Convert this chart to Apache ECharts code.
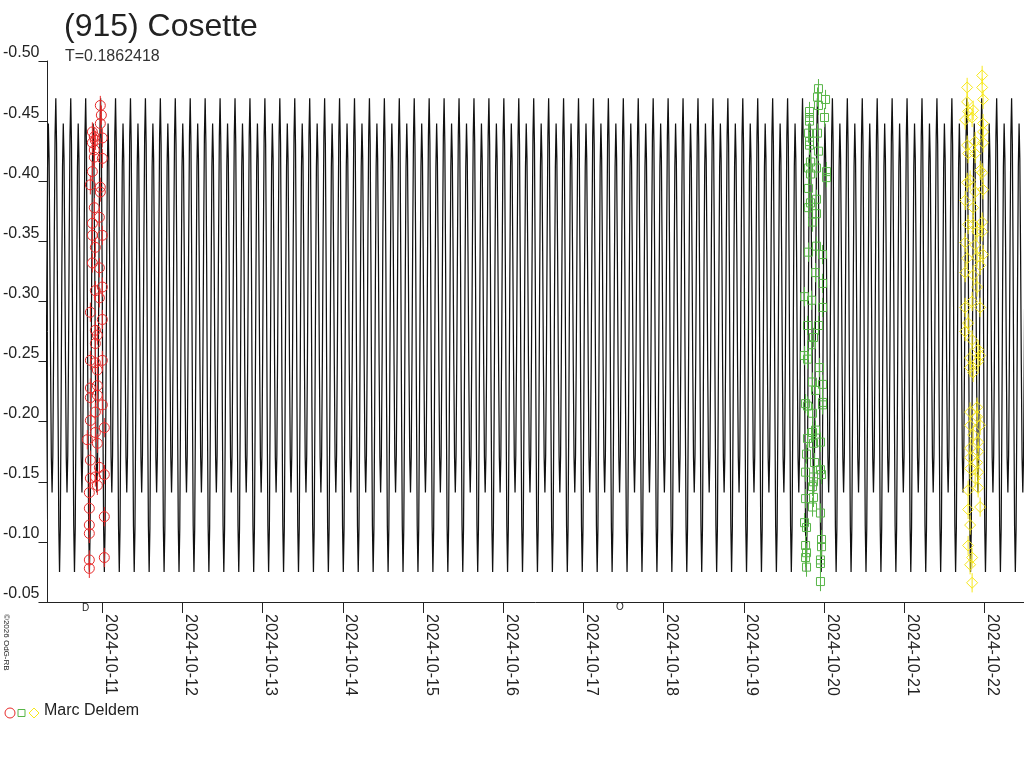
<!DOCTYPE html>
<html>
<head>
<meta charset="utf-8">
<script src="https://cdn.jsdelivr.net/npm/echarts@6/dist/echarts.min.js"></script>
<style>
html,body{margin:0;padding:0;background:#fff;}
#chart{width:1024px;height:768px;}
</style>
</head>
<body>
<div id="chart"></div>
<script>
// ---- data (days are day-of-month, October 2024) ----
const titleText = '(915) Cosette';
const periodText = 'T=0.1862418';
const period = 0.1862418;          // days
const epochMax = 14.8898;          // time of a tall maximum
// one period of the model light curve, phase 0..0.95 (step 0.05)
const phaseProfile = [-0.469, -0.431, -0.333, -0.211, -0.113, -0.075, -0.111, -0.204, -0.319, -0.412,
                      -0.448, -0.419, -0.342, -0.247, -0.170, -0.141, -0.172, -0.254, -0.356, -0.438];
const xMin = 10.316, xMax = 22.494;
const tickDays = [11, 12, 13, 14, 15, 16, 17, 18, 19, 20, 21, 22];
const yTicks = [-0.50, -0.45, -0.40, -0.35, -0.30, -0.25, -0.20, -0.15, -0.10, -0.05];
const errHalf = 0.008;

const redT = [10.975,10.988,10.975,10.876,10.900,10.876,10.913,11.000,10.900,11.000,10.900,10.876,10.851,10.975,10.975,10.900,10.963,10.876,10.876,11.000,10.913,10.876,10.963,11.000,10.913,10.963,10.851,11.000,10.913,10.938,10.913,10.851,11.000,10.913,10.938,10.851,10.938,10.851,10.938,11.000,10.913,10.851,11.025,10.913,10.813,10.938,10.851,10.963,11.025,10.851,10.913,10.938,10.838,10.838,11.025,10.838,10.838,11.025,10.838,10.838];
const redM = [-0.463,-0.455,-0.448,-0.441,-0.437,-0.432,-0.434,-0.436,-0.426,-0.419,-0.420,-0.408,-0.397,-0.395,-0.391,-0.378,-0.370,-0.365,-0.355,-0.355,-0.345,-0.332,-0.328,-0.312,-0.309,-0.303,-0.291,-0.285,-0.276,-0.272,-0.265,-0.251,-0.251,-0.249,-0.243,-0.228,-0.230,-0.220,-0.222,-0.214,-0.208,-0.201,-0.195,-0.191,-0.185,-0.182,-0.168,-0.162,-0.156,-0.153,-0.154,-0.147,-0.141,-0.128,-0.121,-0.114,-0.107,-0.087,-0.085,-0.078];

const greenT = [19.931,19.919,20.019,19.931,19.819,19.819,19.819,20.006,19.807,19.919,19.819,19.819,19.931,19.832,19.807,19.906,19.832,20.031,20.031,19.807,19.906,19.832,19.807,19.906,19.857,19.906,19.807,19.981,19.894,19.981,19.757,19.844,19.981,19.794,19.931,19.869,19.844,19.757,19.794,19.944,19.857,19.981,19.894,19.770,19.981,19.981,19.794,19.857,19.894,19.857,19.956,19.869,19.794,19.782,19.882,19.770,19.956,19.969,19.869,19.869,19.857,19.770,19.869,19.857,19.956,19.757,19.782,19.770,19.969,19.969,19.782,19.770,19.956,19.956,19.782,19.956];
const greenM = [-0.477,-0.470,-0.468,-0.463,-0.458,-0.453,-0.450,-0.453,-0.440,-0.440,-0.433,-0.430,-0.425,-0.416,-0.411,-0.411,-0.406,-0.408,-0.403,-0.394,-0.385,-0.382,-0.378,-0.373,-0.366,-0.346,-0.341,-0.339,-0.324,-0.315,-0.304,-0.301,-0.295,-0.280,-0.280,-0.270,-0.264,-0.255,-0.252,-0.245,-0.233,-0.231,-0.226,-0.215,-0.216,-0.214,-0.213,-0.207,-0.193,-0.191,-0.183,-0.182,-0.186,-0.173,-0.166,-0.158,-0.160,-0.156,-0.154,-0.150,-0.146,-0.136,-0.137,-0.129,-0.124,-0.116,-0.112,-0.097,-0.102,-0.096,-0.091,-0.087,-0.085,-0.082,-0.079,-0.067];

const yellowT = [21.972,21.785,21.972,21.984,21.785,21.797,21.860,21.847,21.760,21.984,21.984,21.785,21.885,21.984,21.797,21.885,21.947,21.972,21.822,21.785,21.885,21.984,21.760,21.860,21.972,21.797,21.860,21.972,21.909,21.760,21.885,21.984,21.785,21.909,21.947,21.760,21.860,21.909,21.847,21.760,21.947,21.797,21.760,21.847,21.922,21.947,21.822,21.922,21.822,21.860,21.909,21.822,21.909,21.822,21.947,21.860,21.922,21.822,21.922,21.822,21.909,21.822,21.922,21.885,21.922,21.797,21.947,21.797,21.822,21.797,21.847,21.822,21.847];
const yellowM = [-0.488,-0.478,-0.478,-0.468,-0.466,-0.458,-0.459,-0.453,-0.451,-0.448,-0.441,-0.430,-0.433,-0.432,-0.423,-0.423,-0.409,-0.407,-0.401,-0.399,-0.391,-0.393,-0.384,-0.378,-0.366,-0.364,-0.364,-0.358,-0.358,-0.349,-0.347,-0.339,-0.336,-0.337,-0.330,-0.324,-0.322,-0.312,-0.300,-0.295,-0.295,-0.282,-0.275,-0.268,-0.260,-0.255,-0.253,-0.250,-0.245,-0.241,-0.212,-0.208,-0.204,-0.197,-0.197,-0.189,-0.183,-0.178,-0.175,-0.170,-0.166,-0.161,-0.158,-0.153,-0.145,-0.143,-0.129,-0.127,-0.114,-0.097,-0.087,-0.081,-0.066];

const observerName = 'Marc Deldem';
const copyrightText = '\u00A92026 OdG-RB';

// ---- build ----
const modelData = [];
{
  const n = phaseProfile.length;
  const kStart = Math.floor((xMin - epochMax) / period) - 1;
  const kEnd = Math.ceil((xMax - epochMax) / period) + 1;
  for (let k = kStart; k <= kEnd; k++) {
    for (let j = 0; j < n; j++) {
      const t = epochMax + (k + j / n) * period;
      if (t >= xMin - 0.05 && t <= xMax + 0.05) modelData.push([t, phaseProfile[j]]);
    }
  }
}
const zip = (a, b) => a.map((v, i) => [v, b[i]]);
const redData = zip(redT, redM), greenData = zip(greenT, greenM), yellowData = zip(yellowT, yellowM);

const RED = '#e82a2a', GREEN = '#58b548', YELLOW = '#f7e81a', INK = '#222';
const FONT = 'Liberation Sans, Arial, sans-serif';

function errSeries(data, color) {
  return {
    type: 'custom', silent: true, z: 3,
    data: data,
    renderItem: function (params, api) {
      const x = api.value(0), y = api.value(1);
      const p1 = api.coord([x, y - errHalf]);
      const p2 = api.coord([x, y + errHalf]);
      return { type: 'line', shape: { x1: p1[0], y1: p1[1], x2: p2[0], y2: p2[1] },
               style: { stroke: color, lineWidth: 1 } };
    }
  };
}
function ptSeries(data, symbol, size, color) {
  return {
    type: 'scatter', symbol: symbol, symbolSize: size, z: 4, data: data,
    itemStyle: { color: 'rgba(0,0,0,0)', borderColor: color, borderWidth: 1, opacity: 1 }
  };
}

const chart = echarts.init(document.getElementById('chart'));
chart.setOption({
  animation: false,
  backgroundColor: '#fff',
  grid: { left: 45, right: 0, top: 61, bottom: 166, containLabel: false },
  xAxis: {
    type: 'value', min: xMin, max: xMax,
    splitLine: { show: false },
    axisLine: { show: true, onZero: false, lineStyle: { color: INK, width: 1 } },
    axisTick: { show: true, length: 11, customValues: tickDays, lineStyle: { color: INK } },
    axisLabel: {
      show: true, customValues: tickDays, rotate: -90, margin: 12,
      verticalAlign: 'bottom', align: 'left',
      color: INK, fontSize: 16, fontFamily: FONT,
      formatter: v => '2024-10-' + String(Math.round(v)).padStart(2, '0')
    }
  },
  yAxis: {
    type: 'value', inverse: true, min: -0.5, max: -0.05, interval: 0.05,
    splitLine: { show: false },
    axisLine: { show: true, onZero: false, lineStyle: { color: INK, width: 1 } },
    axisTick: { show: true, length: 9, lineStyle: { color: INK } },
    axisLabel: {
      show: true, margin: 8, color: INK, fontSize: 16, fontFamily: FONT,
      verticalAlign: 'bottom',
      formatter: v => v.toFixed(2)
    }
  },
  series: [
    { type: 'line', data: modelData, showSymbol: false, symbol: 'none', z: 2,
      lineStyle: { color: '#111', width: 1.25 }, clip: true, silent: true },
    errSeries(redData, RED), errSeries(greenData, GREEN), errSeries(yellowData, YELLOW),
    ptSeries(redData, 'circle', 10, RED),
    ptSeries(greenData, 'rect', 8, GREEN),
    ptSeries(yellowData, 'diamond', 11, YELLOW)
  ],
  graphic: [
    { type: 'text', left: 64, top: 11, style: { text: titleText, fontSize: 32, fontFamily: FONT, fill: INK } },
    { type: 'text', left: 65, top: 49, style: { text: periodText, fontSize: 16, fontFamily: FONT, fill: '#333' } },
    { type: 'text', x: 82, y: 603, style: { text: 'D', fontSize: 10, fontFamily: FONT, fill: INK } },
    { type: 'text', x: 616, y: 602, style: { text: 'O', fontSize: 10, fontFamily: FONT, fill: INK } },
    { type: 'text', x: 2, y: 614, rotation: -Math.PI / 2,
      style: { text: copyrightText, fontSize: 8, fontFamily: FONT, fill: INK, align: 'left', verticalAlign: 'bottom' } },
    { type: 'circle', shape: { cx: 10, cy: 713, r: 5 }, style: { fill: 'none', stroke: RED, lineWidth: 1 } },
    { type: 'rect', shape: { x: 18, y: 709.5, width: 7, height: 7 }, style: { fill: 'none', stroke: GREEN, lineWidth: 1 } },
    { type: 'polygon', shape: { points: [[34, 708], [39, 713], [34, 718], [29, 713]] }, style: { fill: 'none', stroke: YELLOW, lineWidth: 1 } },
    { type: 'text', x: 44, y: 703, style: { text: observerName, fontSize: 16, fontFamily: FONT, fill: INK } }
  ]
});
</script>
</body>
</html>
